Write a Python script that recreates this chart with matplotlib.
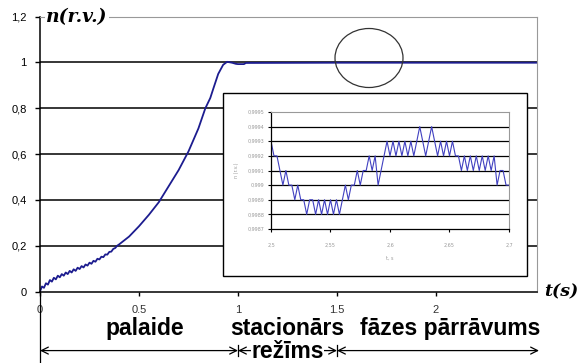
import numpy as np
import matplotlib.pyplot as plt
from matplotlib.patches import Rectangle, Ellipse

# speed of the motor, relative units, start-up and steady state
t_main = [0.00, 0.01, 0.02, 0.03, 0.04, 0.05, 0.06, 0.07, 0.08, 0.09,
          0.10, 0.11, 0.12, 0.13, 0.14, 0.15, 0.16, 0.17, 0.18, 0.19,
          0.20, 0.21, 0.22, 0.23, 0.24, 0.25, 0.26, 0.27, 0.28, 0.29,
          0.30, 0.31, 0.32, 0.33, 0.34, 0.35, 0.36, 0.37, 0.38, 0.39,
          0.40, 0.45, 0.50, 0.55, 0.60, 0.65, 0.70, 0.75, 0.80, 0.835,
          0.86, 0.875, 0.90, 0.925, 0.945, 0.97, 0.99, 1.00, 1.03, 1.04,
          1.50, 2.00, 2.51]
n_main = [0.000, 0.022, 0.016, 0.036, 0.030, 0.050, 0.043, 0.060, 0.053, 0.069,
          0.062, 0.076, 0.069, 0.083, 0.076, 0.090, 0.083, 0.097, 0.090, 0.104,
          0.098, 0.111, 0.105, 0.118, 0.113, 0.126, 0.121, 0.134, 0.130, 0.143,
          0.140, 0.152, 0.150, 0.162, 0.161, 0.173, 0.174, 0.186, 0.190, 0.200,
          0.206, 0.240, 0.285, 0.335, 0.390, 0.460, 0.530, 0.612, 0.712, 0.800,
          0.845, 0.885, 0.950, 0.990, 1.003, 0.999, 0.994, 0.993, 0.993, 0.998,
          0.999, 0.999, 0.999]

# zoomed part of the steady state, 2.5 .. 2.7 s, step 0.0025 s
t_zoom = [2.5 + 0.0025 * k for k in range(81)]
n_zoom = [0.9993, 0.9992, 0.9992, 0.9991, 0.9990, 0.9991, 0.9990, 0.9990, 0.9989, 0.9990,
          0.9989, 0.9989, 0.9988, 0.9989, 0.9989, 0.9988, 0.9989, 0.9988, 0.9989, 0.9988,
          0.9989, 0.9988, 0.9989, 0.9988, 0.9989, 0.9990, 0.9989, 0.9990, 0.9990, 0.9991,
          0.9990, 0.9991, 0.9991, 0.9992, 0.9991, 0.9992, 0.9990, 0.9991, 0.9992, 0.9993,
          0.9992, 0.9993, 0.9992, 0.9993, 0.9992, 0.9993, 0.9992, 0.9993, 0.9992, 0.9993,
          0.9994, 0.9993, 0.9992, 0.9993, 0.9994, 0.9993, 0.9992, 0.9993, 0.9992, 0.9993,
          0.9992, 0.9993, 0.9992, 0.9992, 0.9991, 0.9992, 0.9991, 0.9992, 0.9991, 0.9992,
          0.9991, 0.9992, 0.9991, 0.9992, 0.9991, 0.9992, 0.9990, 0.9991, 0.9991, 0.9990,
          0.9990]

y_ticks = [0, 0.2, 0.4, 0.6, 0.8, 1, 1.2]
y_labels = ['0', '0,2', '0,4', '0,6', '0,8', '1', '1,2']
x_ticks = [0, 0.5, 1, 1.5, 2]
x_labels = ['0', '0.5', '1', '1.5', '2']

zy_ticks = [0.9987, 0.9988, 0.9989, 0.999, 0.9991, 0.9992, 0.9993, 0.9994, 0.9995]
zy_labels = ['0,9987', '0,9988', '0,9989', '0,999', '0,9991', '0,9992', '0,9993', '0,9994', '0,9995']
zx_ticks = [2.5, 2.55, 2.6, 2.65, 2.7]
zx_labels = ['2,5', '2,55', '2,6', '2,65', '2,7']

# mode boundaries on the time axis and where their names sit
t_modes = [0, 1.0, 1.5, 2.52]
mode_names = ['palaide', 'stacionārs', 'fāzes pārrāvums']
name_pos = [0.53, 1.25, 2.07]

W, H = 582, 363
fig = plt.figure(figsize=(W / 100, H / 100), dpi=100)
fig.patch.set_facecolor('white')

ax = fig.add_axes([40 / W, 1 - 291.5 / H, 497 / W, 274.8 / H])
ax.set_xlim(0, 2.51)
ax.set_ylim(0, 1.2)
ax.hlines(y_ticks[1:-1], 0, 2.51, color='black', lw=1.1, zorder=1)
ax.plot(t_main, n_main, color='#1c1c8f', lw=1.3, zorder=2)
for s in ['top', 'right']:
    ax.spines[s].set_color('#999999')
for s in ['left', 'bottom']:
    ax.spines[s].set_color('black')
    ax.spines[s].set_linewidth(1.1)
ax.set_yticks(y_ticks)
ax.set_yticklabels(y_labels, fontsize=8, family='Liberation Sans')
ax.set_xticks(x_ticks)
ax.set_xticklabels(x_labels, fontsize=8, family='Liberation Sans', color='#333333')
ax.tick_params(axis='y', length=3.5, width=1, pad=6)
ax.tick_params(axis='x', length=3, width=1, pad=7)

ax.text(0.03, 1.2, 'n(r.v.)', fontsize=13.5, family='DejaVu Serif', style='italic',
        weight='bold', va='center', ha='left',
        bbox=dict(facecolor='white', edgecolor='none', pad=1))
ax.text(2.548, 0.0, 't(s)', fontsize=12.5, family='DejaVu Serif', style='italic',
        weight='bold', va='center', ha='left', clip_on=False)

# mode names and arrows under the time axis
tr = ax.get_xaxis_transform()
for i, name in enumerate(mode_names):
    ax.text(name_pos[i], -0.135, name, transform=tr, ha='center', va='center',
            fontsize=16.5, weight='bold', family='Liberation Sans')
    ax.annotate('', xy=(t_modes[i], -0.215), xytext=(t_modes[i + 1], -0.215),
                xycoords=tr, textcoords=tr,
                arrowprops=dict(arrowstyle='<->,head_length=0.5,head_width=0.25',
                                lw=0.9, color='black', shrinkA=0, shrinkB=0))
ax.text((t_modes[1] + t_modes[2]) / 2, -0.22, 'režīms', transform=tr, ha='center',
        va='center', fontsize=16.5, weight='bold', family='Liberation Sans',
        bbox=dict(facecolor='white', edgecolor='none', pad=0.3))
ax.plot([0, 0], [0, -0.27], transform=tr, color='black', lw=0.9, clip_on=False)
for tb in t_modes[1:3]:
    ax.plot([tb, tb], [-0.195, -0.235], transform=tr, color='black', lw=0.9, clip_on=False)

# frame of the zoomed plot and the circled region
ov = fig.add_axes([0, 0, 1, 1], zorder=3)
ov.set_xlim(0, W)
ov.set_ylim(H, 0)
ov.axis('off')
ov.add_patch(Rectangle((223, 93), 304, 183, facecolor='white', edgecolor='black', lw=1))
ov.add_patch(Ellipse((369, 58), 68, 59, facecolor='none', edgecolor='#333333', lw=0.9))

ins = fig.add_axes([271 / W, 1 - 229 / H, 238 / W, 117 / H], zorder=4)
ins.set_xlim(2.5, 2.7)
ins.set_ylim(0.9987, 0.9995)
ins.hlines(zy_ticks[1:-1], 2.5, 2.7, color='black', lw=0.9, zorder=1)
ins.plot(t_zoom, n_zoom, color='#4040c0', lw=0.8, zorder=2)
for s in ['top', 'right']:
    ins.spines[s].set_color('#999999')
    ins.spines[s].set_linewidth(0.8)
for s in ['left', 'bottom']:
    ins.spines[s].set_color('black')
    ins.spines[s].set_linewidth(0.9)
ins.set_yticks(zy_ticks)
ins.set_yticklabels(zy_labels, fontsize=3.5, color='#999999')
ins.set_xticks(zx_ticks)
ins.set_xticklabels(zx_labels, fontsize=3.5, color='#999999')
ins.tick_params(length=2, width=0.8, pad=3)
ins.tick_params(axis='x', pad=8)
ins.set_xlabel('t, s', fontsize=3.5, color='#999999', labelpad=6)
ins.set_ylabel('n (r.v.)', fontsize=3.5, color='#999999', labelpad=6)

fig.savefig('out.png', dpi=100)
